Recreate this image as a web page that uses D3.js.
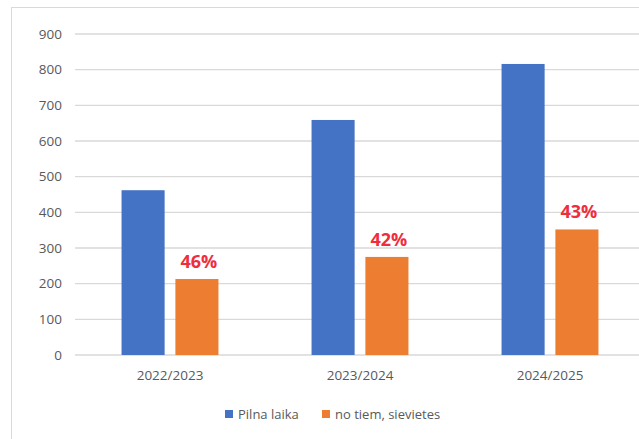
<!DOCTYPE html>
<html>
<head>
<meta charset="utf-8">
<script src="https://cdn.jsdelivr.net/npm/d3@7"></script>
<style>
  html, body { margin: 0; padding: 0; background: #fff; }
  svg { display: block; }
</style>
</head>
<body>
<svg id="chart" width="639" height="439"></svg>
<script>
const categories = ["2022/2023", "2023/2024", "2024/2025"];
const seriesNames = ["Pilna laika", "no tiem, sievietes"];
const fullTime = [462, 659, 816];
const women = [213, 275, 352];
const percentLabels = ["46%", "42%", "43%"];
const yTicks = [0, 100, 200, 300, 400, 500, 600, 700, 800, 900];
const colors = ["#4472C4", "#ED7D31"];

const svg = d3.select("#chart");
const font = "'Open Sans', 'Liberation Sans', sans-serif";

// outer frame
svg.append("rect")
  .attr("x", 11.5).attr("y", 7.5)
  .attr("width", 680).attr("height", 500)
  .attr("fill", "#fff").attr("stroke", "#d9d9d9").attr("stroke-width", 1);

const plotLeft = 75, plotRight = 645;
const y = d3.scaleLinear().domain([0, 900]).range([355, 34]);
const x0 = d3.scaleBand().domain(categories).range([plotLeft, plotRight])
  .paddingInner(0.49).paddingOuter(0.245);
const x1 = d3.scaleBand().domain(seriesNames).range([0, x0.bandwidth()]).paddingInner(0.2);

// gridlines
svg.append("g").selectAll("line").data(yTicks).join("line")
  .attr("x1", plotLeft).attr("x2", 700)
  .attr("y1", d => y(d)).attr("y2", d => y(d))
  .attr("stroke", "#d9d9d9").attr("stroke-width", 1.3);

// y axis labels
const yAxis = d3.axisLeft(y).tickValues(yTicks).tickSize(0).tickPadding(0);
const yg = svg.append("g").attr("transform", "translate(62,0)").call(yAxis);
yg.select(".domain").remove();
yg.selectAll("text").attr("font-family", font).attr("font-size", 13.5).attr("fill", "#595959");

// x axis labels
const xAxis = d3.axisBottom(x0).tickSize(0).tickPadding(0);
const xg = svg.append("g").attr("transform", "translate(0,370)").call(xAxis);
xg.select(".domain").remove();
xg.selectAll("text").attr("font-family", font).attr("font-size", 13.5).attr("fill", "#595959");

const data = categories.map((c, i) => ({ cat: c, vals: [fullTime[i], women[i]], pct: percentLabels[i] }));

const groups = svg.append("g").selectAll("g").data(data).join("g")
  .attr("transform", d => `translate(${x0(d.cat)},0)`);

groups.selectAll("rect").data(d => d.vals.map((v, j) => ({ s: seriesNames[j], v, j }))).join("rect")
  .attr("x", d => x1(d.s))
  .attr("y", d => y(d.v))
  .attr("width", x1.bandwidth())
  .attr("height", d => y(0) - y(d.v))
  .attr("fill", d => colors[d.j]);

groups.append("text")
  .attr("x", x1(seriesNames[1]) + x1.bandwidth() / 2 + 2)
  .attr("y", d => y(d.vals[1]) - 11)
  .attr("text-anchor", "middle")
  .attr("font-family", font).attr("font-size", 18).attr("font-weight", "bold")
  .attr("fill", "#EF2D3C")
  .text(d => d.pct);

// legend
const legendItems = [
  { name: seriesNames[0], color: colors[0], x: 225 },
  { name: seriesNames[1], color: colors[1], x: 322 }
];
const lg = svg.append("g").selectAll("g").data(legendItems).join("g")
  .attr("transform", d => `translate(${d.x},0)`);
lg.append("rect").attr("x", 0).attr("y", 410).attr("width", 8).attr("height", 8).attr("fill", d => d.color);
lg.append("text").attr("x", 13).attr("y", 419)
  .attr("font-family", font).attr("font-size", 13).attr("fill", "#595959")
  .text(d => d.name);
</script>
</body>
</html>
